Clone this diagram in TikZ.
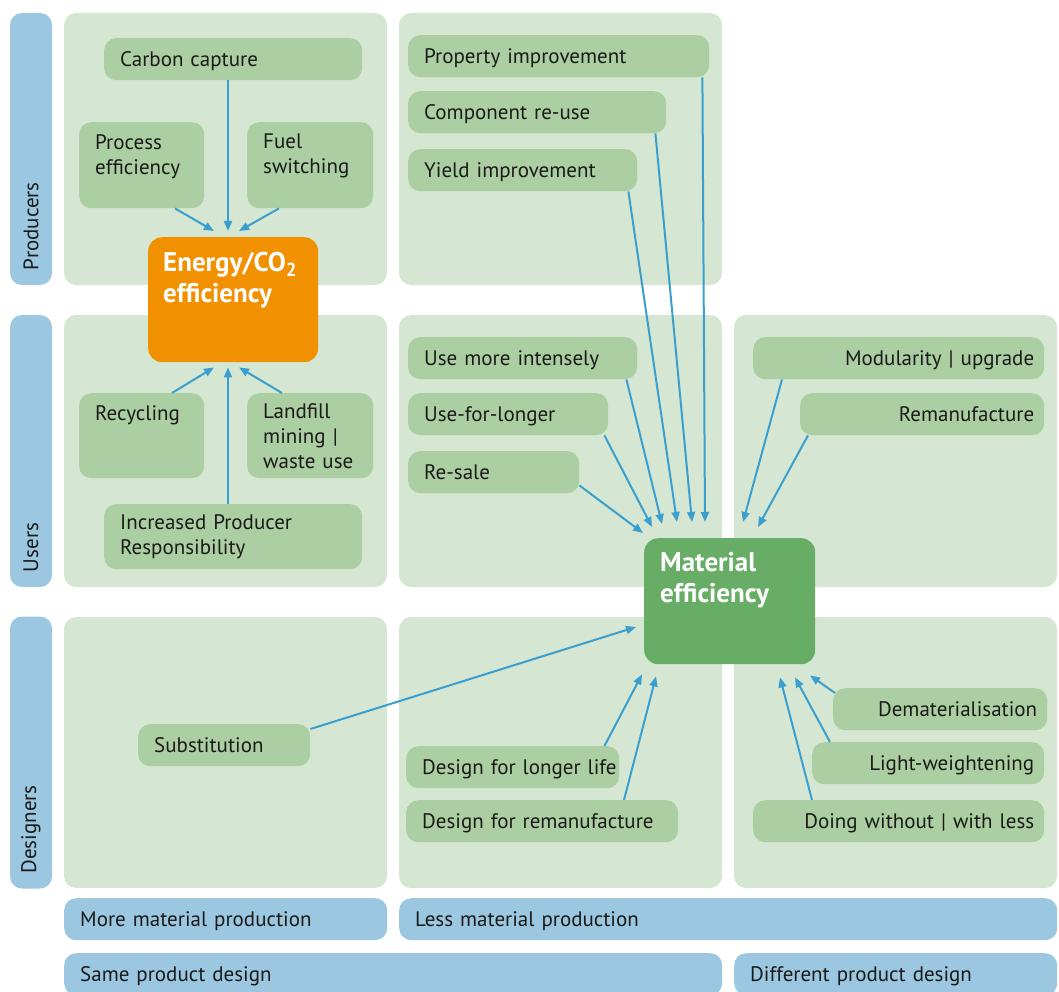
\documentclass[tikz,border=0pt]{standalone}
\usepackage{fontspec}
\setmainfont{PT Sans}
\usetikzlibrary{arrows.meta,calc}

\definecolor{panelgreen}{HTML}{D5E7D2}
\definecolor{boxgreen}{HTML}{ABCFA2}
\definecolor{energyorange}{HTML}{F29100}
\definecolor{matgreen}{HTML}{68AD65}
\definecolor{barblue}{HTML}{9CC7E0}
\definecolor{arrowblue}{HTML}{3A9FCE}
\definecolor{ink}{HTML}{1A1A18}

\newcommand\boxfont{\fontsize{21}{25}\selectfont}
\newcommand\bigfont{\fontsize{27}{31}\selectfont\bfseries}

\begin{document}
\begin{tikzpicture}[x=1pt, y=-1pt,
  panel/.style={fill=panelgreen, rounded corners=12pt},
  side/.style={fill=barblue, rounded corners=12pt, rotate=90, minimum height=42pt,
    inner xsep=15pt, text width=242pt, align=left, font=\boxfont, text=ink},
  bottom/.style={fill=barblue, rounded corners=12pt, anchor=north west, minimum height=42pt,
    inner xsep=16pt, text depth=0pt, align=left, font=\boxfont, text=ink},
  gbox/.style={fill=boxgreen, rounded corners=12pt, anchor=north west, minimum height=42pt,
    inner xsep=16pt, text depth=0pt, align=left, font=\boxfont, text=ink},
  rbox/.style={gbox, align=right, inner xsep=10pt},
  tbox/.style={fill=boxgreen, rounded corners=12pt, anchor=north west},
  toptext/.style={anchor=north west, align=left, font=\boxfont, text=ink,
    inner xsep=16pt, inner ysep=12pt},
  arr/.style={draw=arrowblue, line width=2pt, -{Triangle[length=10pt,width=8pt]}}]

\useasboundingbox (0,0) rectangle (1059,992);

% panels
\fill[panel] (64,13) rectangle (387,285);
\fill[panel] (399,13) rectangle (722,285);
\fill[panel] (64,315) rectangle (387,587);
\fill[panel] (399,315) rectangle (722,587);
\fill[panel] (734,315) rectangle (1057,587);
\fill[panel] (64,617) rectangle (387,888);
\fill[panel] (399,617) rectangle (722,888);
\fill[panel] (734,617) rectangle (1057,888);

% side and bottom bars
\node[side, minimum width=272pt] (prod) at (31,149) {Producers};
\node[side, minimum width=272pt] (users) at (31,451) {Users};
\node[side, minimum width=271pt] (desg) at (31,752.5) {Designers};
\node[bottom, text width=291pt] (more) at (64,898) {More material production};
\node[bottom, text width=626pt] (less) at (399,898) {Less material production};
\node[bottom, text width=626pt] (same) at (64,953) {Same product design};
\node[bottom, text width=291pt] (diff) at (734,953) {Different product design};

% energy side
\node[gbox, text width=226pt] (cc) at (104,38) {Carbon capture};
\node[tbox, minimum width=125pt, minimum height=86pt,
  label={[toptext]north west:Process\\efficiency}] (proc) at (79,122) {};
\node[tbox, minimum width=126pt, minimum height=86pt,
  label={[toptext]north west:Fuel\\switching}] (fuel) at (247,122) {};
\node[tbox, fill=energyorange, rounded corners=14pt, minimum width=170pt, minimum height=125pt,
  label={[toptext, font=\bigfont, text=white, inner xsep=15pt, inner ysep=15pt]north west:Energy/CO\textsubscript{2}\\efficiency}] (en) at (148,237) {};
\node[tbox, minimum width=125pt, minimum height=85pt,
  label={[toptext]north west:Recycling}] (recy) at (79,393) {};
\node[gbox, text depth={}, text width=94pt, minimum height=85pt] (land) at (247,393) {Landfill\\mining |\\waste use};
\node[gbox, text depth={}, text width=226pt, minimum height=65pt] (ipr) at (104,504) {Increased Producer\\Responsibility};

% material side
\node[gbox, text width=269pt] (prop) at (408,35) {Property improvement};
\node[gbox, text width=226pt] (comp) at (408,91) {Component re-use};
\node[gbox, text width=197pt] (yield) at (408,149) {Yield improvement};
\node[gbox, text width=197pt] (usemore) at (408,337) {Use more intensely};
\node[gbox, text width=168pt] (uselong) at (408,393) {Use-for-longer};
\node[gbox, text width=139pt] (resale) at (408,451) {Re-sale};
\node[rbox, text width=271pt] (modu) at (753,337) {Modularity | upgrade};
\node[rbox, text width=224pt] (reman) at (800,393) {Remanufacture};
\node[tbox, fill=matgreen, rounded corners=14pt, minimum width=171pt, minimum height=126pt,
  label={[toptext, font=\bigfont, text=white, inner xsep=16pt, inner ysep=14pt]north west:Material\\efficiency}] (mat) at (644,538) {};
\node[gbox, text width=140pt] (subst) at (138,724) {Substitution};
\node[gbox, text width=181pt] (dlong) at (406,746) {\mbox{Design for longer life}};
\node[gbox, text width=240pt] (drem) at (406,800) {Design for remanufacture};
\node[rbox, text width=194pt] (demat) at (833,688) {Dematerialisation};
\node[rbox, text width=212pt] (light) at (812,742) {Light-weightening};
\node[rbox, text width=271pt] (doing) at (753,800) {Doing without | with less};

% arrows to energy
\draw[arr] ($(cc.south west)+(124,0)$) -- ($(en.north west)+(80,-6)$);
\draw[arr] ($(proc.south west)+(96,0)$) -- ($(en.north west)+(66,-6)$);
\draw[arr] ($(fuel.south west)+(32,0)$) -- ($(en.north west)+(91,-6)$);
\draw[arr] ($(recy.north west)+(93,0)$) -- ($(en.south west)+(66,5)$);
\draw[arr] ($(ipr.north west)+(124,0)$) -- ($(en.south west)+(80,5)$);
\draw[arr] ($(land.north west)+(35,0)$) -- ($(en.south west)+(91,5)$);

% arrows to material
\draw[arr] ($(prop.south east)+(-7,0)$) -- ($(mat.north west)+(61,-16)$);
\draw[arr] ($(comp.south east)+(-11,0)$) -- ($(mat.north west)+(48,-16)$);
\draw[arr] ($(yield.south east)+(-9,0)$) -- ($(mat.north west)+(33,-16)$);
\draw[arr] ($(usemore.south east)+(-11,0)$) -- ($(mat.north west)+(18,-14)$);
\draw[arr] ($(uselong.south east)+(-4,0)$) -- ($(mat.north west)+(8,-11)$);
\draw[arr] ($(resale.south east)+(0,-8)$) -- ($(mat.north west)+(-1,-5)$);
\draw[arr] ($(modu.south west)+(29,0)$) -- ($(mat.north west)+(99,-16)$);
\draw[arr] ($(reman.south west)+(8,0)$) -- ($(mat.north west)+(114,-11)$);
\draw[arr] ($(subst.north east)+(0,5)$) -- ($(mat.north west)+(-8,89)$);
\draw[arr] ($(dlong.north east)+(-15,0)$) -- ($(mat.south west)+(-2,10)$);
\draw[arr] ($(drem.north west)+(218,0)$) -- ($(mat.south west)+(12,12)$);
\draw[arr] ($(doing.north west)+(59,0)$) -- ($(mat.south west)+(136,13)$);
\draw[arr] ($(light.north west)+(18,0)$) -- ($(mat.south west)+(151,13)$);
\draw[arr] ($(demat.north west)+(2,5)$) -- ($(mat.south west)+(166,11)$);
\end{tikzpicture}
\end{document}
